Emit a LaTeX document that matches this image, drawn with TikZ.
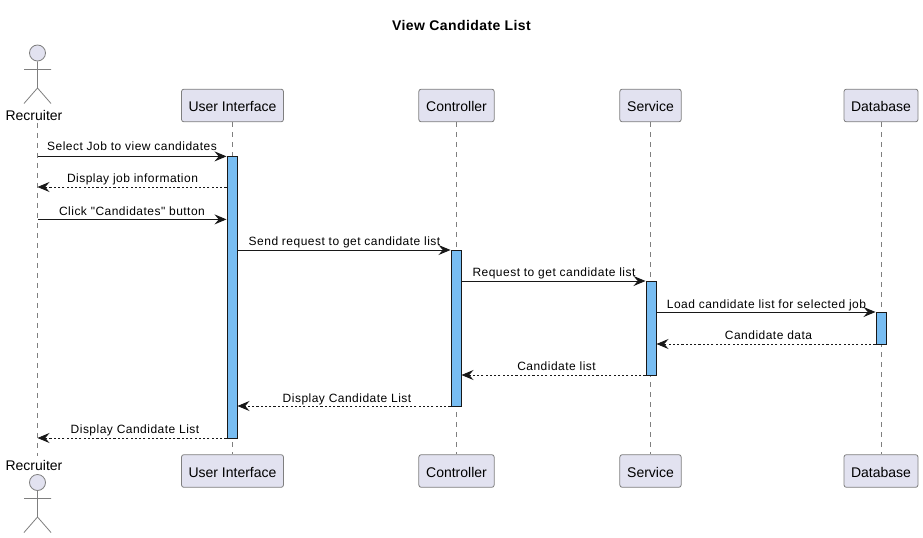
\documentclass[tikz,border=0pt]{standalone}
\usepackage{fontspec}
\setmainfont{Liberation Sans}
\newfontfamily\msgfont[LetterSpace=4]{Liberation Sans}
\newfontfamily\titlefont[LetterSpace=3]{Liberation Sans}
\usetikzlibrary{arrows.meta}
\definecolor{partfill}{HTML}{E2E2F0}
\definecolor{partline}{HTML}{7F7F7F}
\definecolor{actfill}{HTML}{78BDF2}
\definecolor{msgline}{HTML}{181818}
\tikzset{
  x=0.75pt,y=-0.75pt,
  part/.style={draw=partline,fill=partfill,rounded corners=1.8pt,line width=0.6pt,minimum height=24.5pt,inner sep=0pt,text height=9pt,text depth=0pt,font=\fontsize{10.5pt}{12pt}\selectfont,text=black},
  actorname/.style={inner sep=0pt,font=\fontsize{10.5pt}{12pt}\selectfont,text=black},
  life/.style={draw=partline,line width=0.6pt,dash pattern=on 3.75pt off 3.75pt},
  limb/.style={draw=partline,line width=0.6pt},
  head/.style={circle,draw=partline,fill=partfill,line width=0.6pt,minimum size=12pt,inner sep=0pt},
  actbar/.style={draw=msgline,fill=actfill,line width=0.75pt,minimum width=7.5pt,inner sep=0pt},
  tip/.style={-{Stealth[length=9pt,width=7.5pt,inset=3.2pt,color=msgline]}},
  call/.style={draw=msgline,line width=0.75pt,tip},
  back/.style={draw=msgline,line width=0.6pt,dash pattern=on 1.6pt off 1.6pt,tip},
  msg/.style={inner sep=0pt,anchor=base,font=\fontsize{9pt}{11pt}\msgfont,text=black},
}
\begin{document}
\begin{tikzpicture}
\useasboundingbox (0,0) rectangle (923,538);
\node[inner sep=0pt,font=\fontsize{10.5pt}{12pt}\titlefont\bfseries] (title) at (461.5,25) {View Candidate List};
% participants
\node[actorname] (rtop) at (34,115) {Recruiter};
\node[actorname] (rbot) at (34,465) {Recruiter};
\node[part,minimum width=76.5pt] (uitop) at (232.5,105.5) {User Interface};
\node[part,minimum width=56.5pt] (cttop) at (456.5,105.5) {Controller};
\node[part,minimum width=46pt] (svtop) at (650.5,105.5) {Service};
\node[part,minimum width=55.5pt] (dbtop) at (881,105.5) {Database};
\node[part,minimum width=76.5pt] (uibot) at (232.5,471) {User Interface};
\node[part,minimum width=56.5pt] (ctbot) at (456.5,471) {Controller};
\node[part,minimum width=46pt] (svbot) at (650.5,471) {Service};
\node[part,minimum width=55.5pt] (dbbot) at (881,471) {Database};
% lifelines
\coordinate (rl0) at (37.5,123);
\coordinate (rl1) at (37.5,456);
\draw[life] (rl0) -- (rl1);
\draw[life] (uitop.south) -- (uibot.north);
\draw[life] (cttop.south) -- (ctbot.north);
\draw[life] (svtop.south) -- (svbot.north);
\draw[life] (dbtop.south) -- (dbbot.north);
% actors
\node[head] (h1) at (37.5,53) {};
\draw[limb] (h1.south) -- (37.5,88) (24,69.5) -- (51,69.5) (24,103.5) -- (37.5,88) -- (51,103.5);
\node[head] (h2) at (37.5,482.5) {};
\draw[limb] (h2.south) -- (37.5,517) (24,498.5) -- (51,498.5) (24,532.5) -- (37.5,517) -- (51,532.5);
% activations
\node[actbar,minimum height=211.5pt] (a1) at (232,297.4) {};
\node[actbar,minimum height=117pt] (a2) at (456,328) {};
\node[actbar,minimum height=70.5pt] (a3) at (651,328) {};
\node[actbar,minimum height=24pt] (a4) at (881,328) {};
% message end points on the recruiter lifeline
\coordinate (r1) at (37.5,156.4);
\coordinate (r2) at (37.5,187);
\coordinate (r3) at (37.5,219.4);
\coordinate (r4) at (37.5,438);
% messages
\draw[call] (r1) -- (a1.west |- r1);
\draw[back] (a1.west |- r2) -- (r2);
\draw[call] (r3) -- (a1.west |- r3);
\coordinate (y4) at (0,250);
\draw[call] (a1.east |- y4) -- (a2.west |- y4);
\coordinate (y5) at (0,281);
\draw[call] (a2.east |- y5) -- (a3.west |- y5);
\coordinate (y6) at (0,312);
\draw[call] (a3.east |- y6) -- (a4.west |- y6);
\coordinate (y7) at (0,344);
\draw[back] (a4.west |- y7) -- (a3.east |- y7);
\coordinate (y8) at (0,375);
\draw[back] (a3.west |- y8) -- (a2.east |- y8);
\coordinate (y9) at (0,406);
\draw[back] (a2.west |- y9) -- (a1.east |- y9);
\draw[back] (a1.west |- r4) -- (r4);
% labels
\node[msg] (m1) at (132,151) {Select Job to view candidates};
\node[msg] (m2) at (132.5,183) {Display job information};
\node[msg] (m3) at (132,215) {Click "Candidates" button};
\node[msg] (m4) at (344.5,245) {Send request to get candidate list};
\node[msg] (m5) at (554,276) {Request to get candidate list};
\node[msg] (m6) at (766.5,308) {Load candidate list for selected job};
\node[msg] (m7) at (768.5,339) {Candidate data};
\node[msg] (m8) at (556.5,370) {Candidate list};
\node[msg] (m9) at (347,402) {Display Candidate List};
\node[msg] (m10) at (135,433) {Display Candidate List};
\end{tikzpicture}
\end{document}
